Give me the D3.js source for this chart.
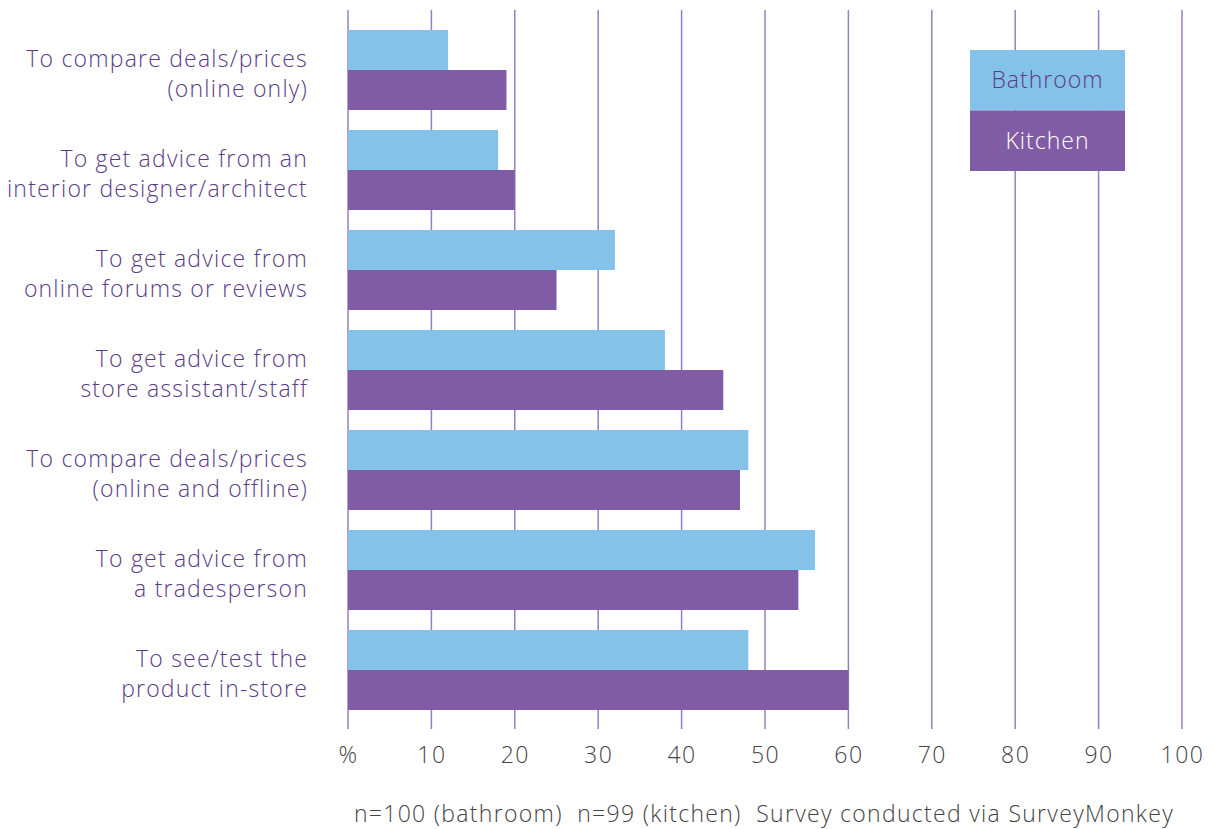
<!DOCTYPE html>
<html>
<head>
<meta charset="utf-8">
<script src="https://cdn.jsdelivr.net/npm/d3@7"></script>
<style>
  body { margin: 0; background: #fff; }
  svg { font-family: "Open Sans", Lato, sans-serif; font-weight: 300; }
  .cat-label { fill: #5b3d87; font-size: 23px; letter-spacing: 1.2px; }
  .tick text { fill: #444; font-size: 23px; letter-spacing: 1.5px; }
  .legend-label { font-size: 23px; letter-spacing: 1px; }
  .footer { fill: #444; font-size: 23px; letter-spacing: 1.3px; white-space: pre; }
</style>
</head>
<body>
<svg id="chart"></svg>
<script>
// data
const categories = [
  ['To compare deals/prices', '(online only)'],
  ['To get advice from an', 'interior designer/architect'],
  ['To get advice from', 'online forums or reviews'],
  ['To get advice from', 'store assistant/staff'],
  ['To compare deals/prices', '(online and offline)'],
  ['To get advice from', 'a tradesperson'],
  ['To see/test the', 'product in-store']
]
const bathroom = [12, 18, 32, 38, 48, 56, 48]
const kitchen = [19, 20, 25, 45, 47, 54, 60]
const series = ['Bathroom', 'Kitchen']
const xTicks = [0, 10, 20, 30, 40, 50, 60, 70, 80, 90, 100]
const footer = 'n=100 (bathroom)  n=99 (kitchen)  Survey conducted via SurveyMonkey'

const width = 1214, height = 829
const colors = { Bathroom: '#85c2ea', Kitchen: '#7f5ca3' }

let svg = d3.select('#chart')
.attr('width', width)
.attr('height', height)

let x = d3.scaleLinear()
.domain([0, 100])
.range([348, 1182])

let y = d3.scaleBand()
.domain(d3.range(categories.length))
.range([20, 720])
.paddingInner(0.2)
.paddingOuter(0.1)

let ySub = d3.scaleBand()
.domain(series)
.range([0, y.bandwidth()])

// grid lines
svg.append('g').selectAll('line')
.data(xTicks)
.enter()
.append('line')
.attr('x1', d => x(d))
.attr('x2', d => x(d))
.attr('y1', 10)
.attr('y2', 729)
.attr('stroke', '#9a7cc4')
.attr('stroke-width', 1.5)

const rows = categories.map((c, i) => ({ i, Bathroom: bathroom[i], Kitchen: kitchen[i] }))

let groups = svg.append('g').selectAll('g')
.data(rows)
.enter()
.append('g')
.attr('transform', d => 'translate(0,' + y(d.i) + ')')

groups.selectAll('rect')
.data(d => series.map(s => ({ s, v: d[s] })))
.enter()
.append('rect')
.attr('x', x(0))
.attr('y', d => ySub(d.s))
.attr('width', d => x(d.v) - x(0))
.attr('height', ySub.bandwidth())
.attr('fill', d => colors[d.s])

// category labels
groups.append('text')
.attr('class', 'cat-label')
.attr('text-anchor', 'end')
.attr('x', 308)
.selectAll('tspan')
.data(d => categories[d.i])
.enter()
.append('tspan')
.attr('x', 308)
.attr('y', (d, j) => 37 + j * 30)
.text(d => d)

// x axis
let axis = svg.append('g')
.attr('transform', 'translate(0,740)')
.call(d3.axisBottom(x).tickValues(xTicks).tickSize(0).tickPadding(2)
  .tickFormat(d => d === 0 ? '%' : d))
axis.select('.domain').remove()
axis.selectAll('.tick text').attr('dy', '0.9em')
.style('font-family', '"Open Sans", sans-serif').style('font-weight', 300)

// legend
let legend = svg.append('g').attr('transform', 'translate(970,50)')
series.forEach((s, i) => {
  legend.append('rect')
  .attr('x', 0)
  .attr('y', i * 60.5)
  .attr('width', 155)
  .attr('height', 60.5)
  .attr('fill', colors[s])
  legend.append('text')
  .attr('class', 'legend-label')
  .attr('x', 77.5)
  .attr('y', i * 60.5 + 38)
  .attr('text-anchor', 'middle')
  .attr('fill', i === 0 ? '#5b3d87' : '#fff')
  .text(s)
})

svg.append('text')
.attr('class', 'footer')
.attr('x', 764)
.attr('y', 822)
.attr('text-anchor', 'middle')
.text(footer)
</script>
</body>
</html>
